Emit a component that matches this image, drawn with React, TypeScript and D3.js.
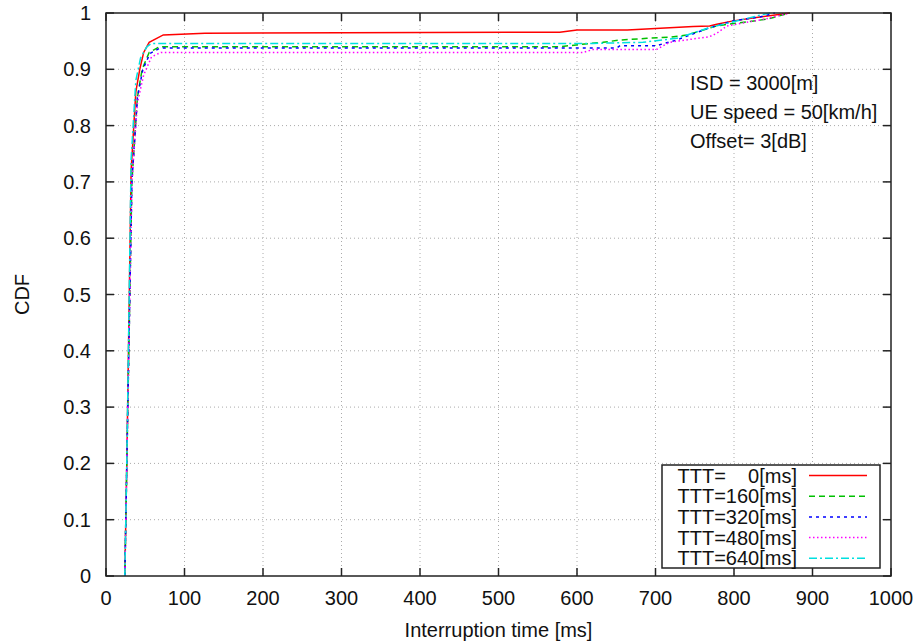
import React from "react";
import * as d3 from "d3";

const W = 920;
const H = 641;

const xTicks = [0, 100, 200, 300, 400, 500, 600, 700, 800, 900, 1000];
const yTicks = [0, 0.1, 0.2, 0.3, 0.4, 0.5, 0.6, 0.7, 0.8, 0.9, 1];
const yTickLabels = ["0", "0.1", "0.2", "0.3", "0.4", "0.5", "0.6", "0.7", "0.8", "0.9", "1"];

const annotations = ["ISD = 3000[m]", "UE speed = 50[km/h]", "Offset= 3[dB]"];

const seriesNames = ["TTT=    0[ms]", "TTT=160[ms]", "TTT=320[ms]", "TTT=480[ms]", "TTT=640[ms]"];
const seriesColors = ["#ff0000", "#00c000", "#0000ff", "#ff00ff", "#00e0e0"];
const seriesDash = ["", "6,4", "3,4", "1.5,2.5", "8,3,2,3"];

// [ms, CDF]
const ttt0: [number, number][] = [
  [24, 0], [26.5, 0.2], [32, 0.72], [38, 0.86], [43, 0.9], [48, 0.93], [55, 0.948], [73, 0.961],
  [126, 0.964], [300, 0.965], [578, 0.966], [600, 0.97], [664, 0.97], [706, 0.973], [748, 0.976],
  [769, 0.977], [778, 0.98], [799, 0.986], [833, 0.993], [871, 1.0],
];
const ttt160: [number, number][] = [
  [24, 0], [26.5, 0.2], [33, 0.7], [40, 0.85], [46, 0.9], [55, 0.93], [68, 0.94],
  [578, 0.94], [604, 0.944], [633, 0.948], [655, 0.952], [689, 0.955], [718, 0.957], [740, 0.961],
  [778, 0.977], [803, 0.982], [842, 0.989], [871, 1.0],
];
const ttt320: [number, number][] = [
  [24, 0], [26.5, 0.2], [33, 0.7], [40, 0.85], [47, 0.9], [56, 0.928], [69, 0.938],
  [651, 0.938], [655, 0.942], [701, 0.942], [727, 0.952], [769, 0.974], [799, 0.986], [833, 0.993], [852, 1.0],
];
const ttt480: [number, number][] = [
  [24, 0], [26.5, 0.2], [33, 0.7], [40, 0.84], [48, 0.89], [58, 0.922], [70, 0.93],
  [608, 0.93], [620, 0.935], [701, 0.935], [718, 0.948], [769, 0.958], [778, 0.964], [791, 0.977],
  [842, 0.99], [871, 1.0],
];
const ttt640: [number, number][] = [
  [24, 0], [26.5, 0.2], [32, 0.74], [38, 0.88], [44, 0.92], [52, 0.94], [58, 0.946],
  [620, 0.946], [684, 0.948], [727, 0.955], [769, 0.974], [833, 0.996], [846, 1.0],
];
const allSeries = [ttt0, ttt160, ttt320, ttt480, ttt640];

const L = 106, R = 891, T = 13, B = 576;
const font = "'Liberation Sans', Arial, sans-serif";

export default function App() {
  const x = d3.scaleLinear().domain([0, 1000]).range([L, R]);
  const y = d3.scaleLinear().domain([0, 1]).range([B, T]);
  const line = d3.line<[number, number]>().x(d => x(d[0])).y(d => y(d[1]));
  const tickLen = 8;
  const legX0 = 662, legY0 = 465, legW = 218, legH = 103;
  const rowH = 20.7;

  return (
    <svg width={W} height={H} style={{ position: "absolute", left: 0, top: 0, background: "#fff" }} fontFamily={font}>
      <rect width={W} height={H} fill="#fff" />
      {/* grid */}
      {xTicks.slice(1, -1).map(t => (
        <line key={"gx" + t} x1={x(t)} x2={x(t)} y1={T} y2={B} stroke="#aaa" strokeWidth={1} strokeDasharray="1,3" />
      ))}
      {yTicks.slice(1, -1).map(t => (
        <line key={"gy" + t} x1={L} x2={R} y1={y(t)} y2={y(t)} stroke="#aaa" strokeWidth={1} strokeDasharray="1,3" />
      ))}
      {/* ticks */}
      {xTicks.map(t => (
        <g key={"tx" + t}>
          <line x1={x(t)} x2={x(t)} y1={B} y2={B - tickLen} stroke="#222" strokeWidth={1.5} />
          <line x1={x(t)} x2={x(t)} y1={T} y2={T + tickLen} stroke="#222" strokeWidth={1.5} />
          <text x={x(t)} y={605} fontSize={20} textAnchor="middle" fill="#111">{t}</text>
        </g>
      ))}
      {yTicks.map((t, i) => (
        <g key={"ty" + t}>
          <line x1={L} x2={L + tickLen} y1={y(t)} y2={y(t)} stroke="#222" strokeWidth={1.5} />
          <line x1={R} x2={R - tickLen} y1={y(t)} y2={y(t)} stroke="#222" strokeWidth={1.5} />
          <text x={91} y={y(t) + 7} fontSize={20} textAnchor="end" fill="#111">{yTickLabels[i]}</text>
        </g>
      ))}
      {/* data */}
      {allSeries.map((s, i) => (
        <path key={"s" + i} d={line(s) || ""} fill="none" stroke={seriesColors[i]} strokeWidth={1.5}
          strokeDasharray={seriesDash[i] || undefined} />
      ))}
      {/* frame */}
      <rect x={L} y={T} width={R - L} height={B - T} fill="none" stroke="#222" strokeWidth={1.5} />
      {/* annotations */}
      {annotations.map((a, i) => (
        <text key={"a" + i} x={690} y={90 + i * 29} fontSize={20} fill="#111">{a}</text>
      ))}
      {/* legend */}
      <rect x={legX0} y={legY0} width={legW} height={legH} fill="#fff" stroke="#222" strokeWidth={1.5} />
      {seriesNames.map((n, i) => {
        const cy = legY0 + 10.5 + i * rowH;
        return (
          <g key={"l" + i}>
            <text x={797} y={cy + 7} fontSize={20} textAnchor="end" fill="#111" style={{ whiteSpace: "pre" }} xmlSpace="preserve">{n}</text>
            <line x1={809} x2={867} y1={cy} y2={cy} stroke={seriesColors[i]} strokeWidth={1.5}
              strokeDasharray={seriesDash[i] || undefined} />
          </g>
        );
      })}
      {/* axis titles */}
      <text x={(L + R) / 2} y={637} fontSize={20} textAnchor="middle" fill="#111">Interruption time [ms]</text>
      <text transform={`translate(29,${(T + B) / 2}) rotate(-90)`} fontSize={20} textAnchor="middle" fill="#111">CDF</text>
    </svg>
  );
}
